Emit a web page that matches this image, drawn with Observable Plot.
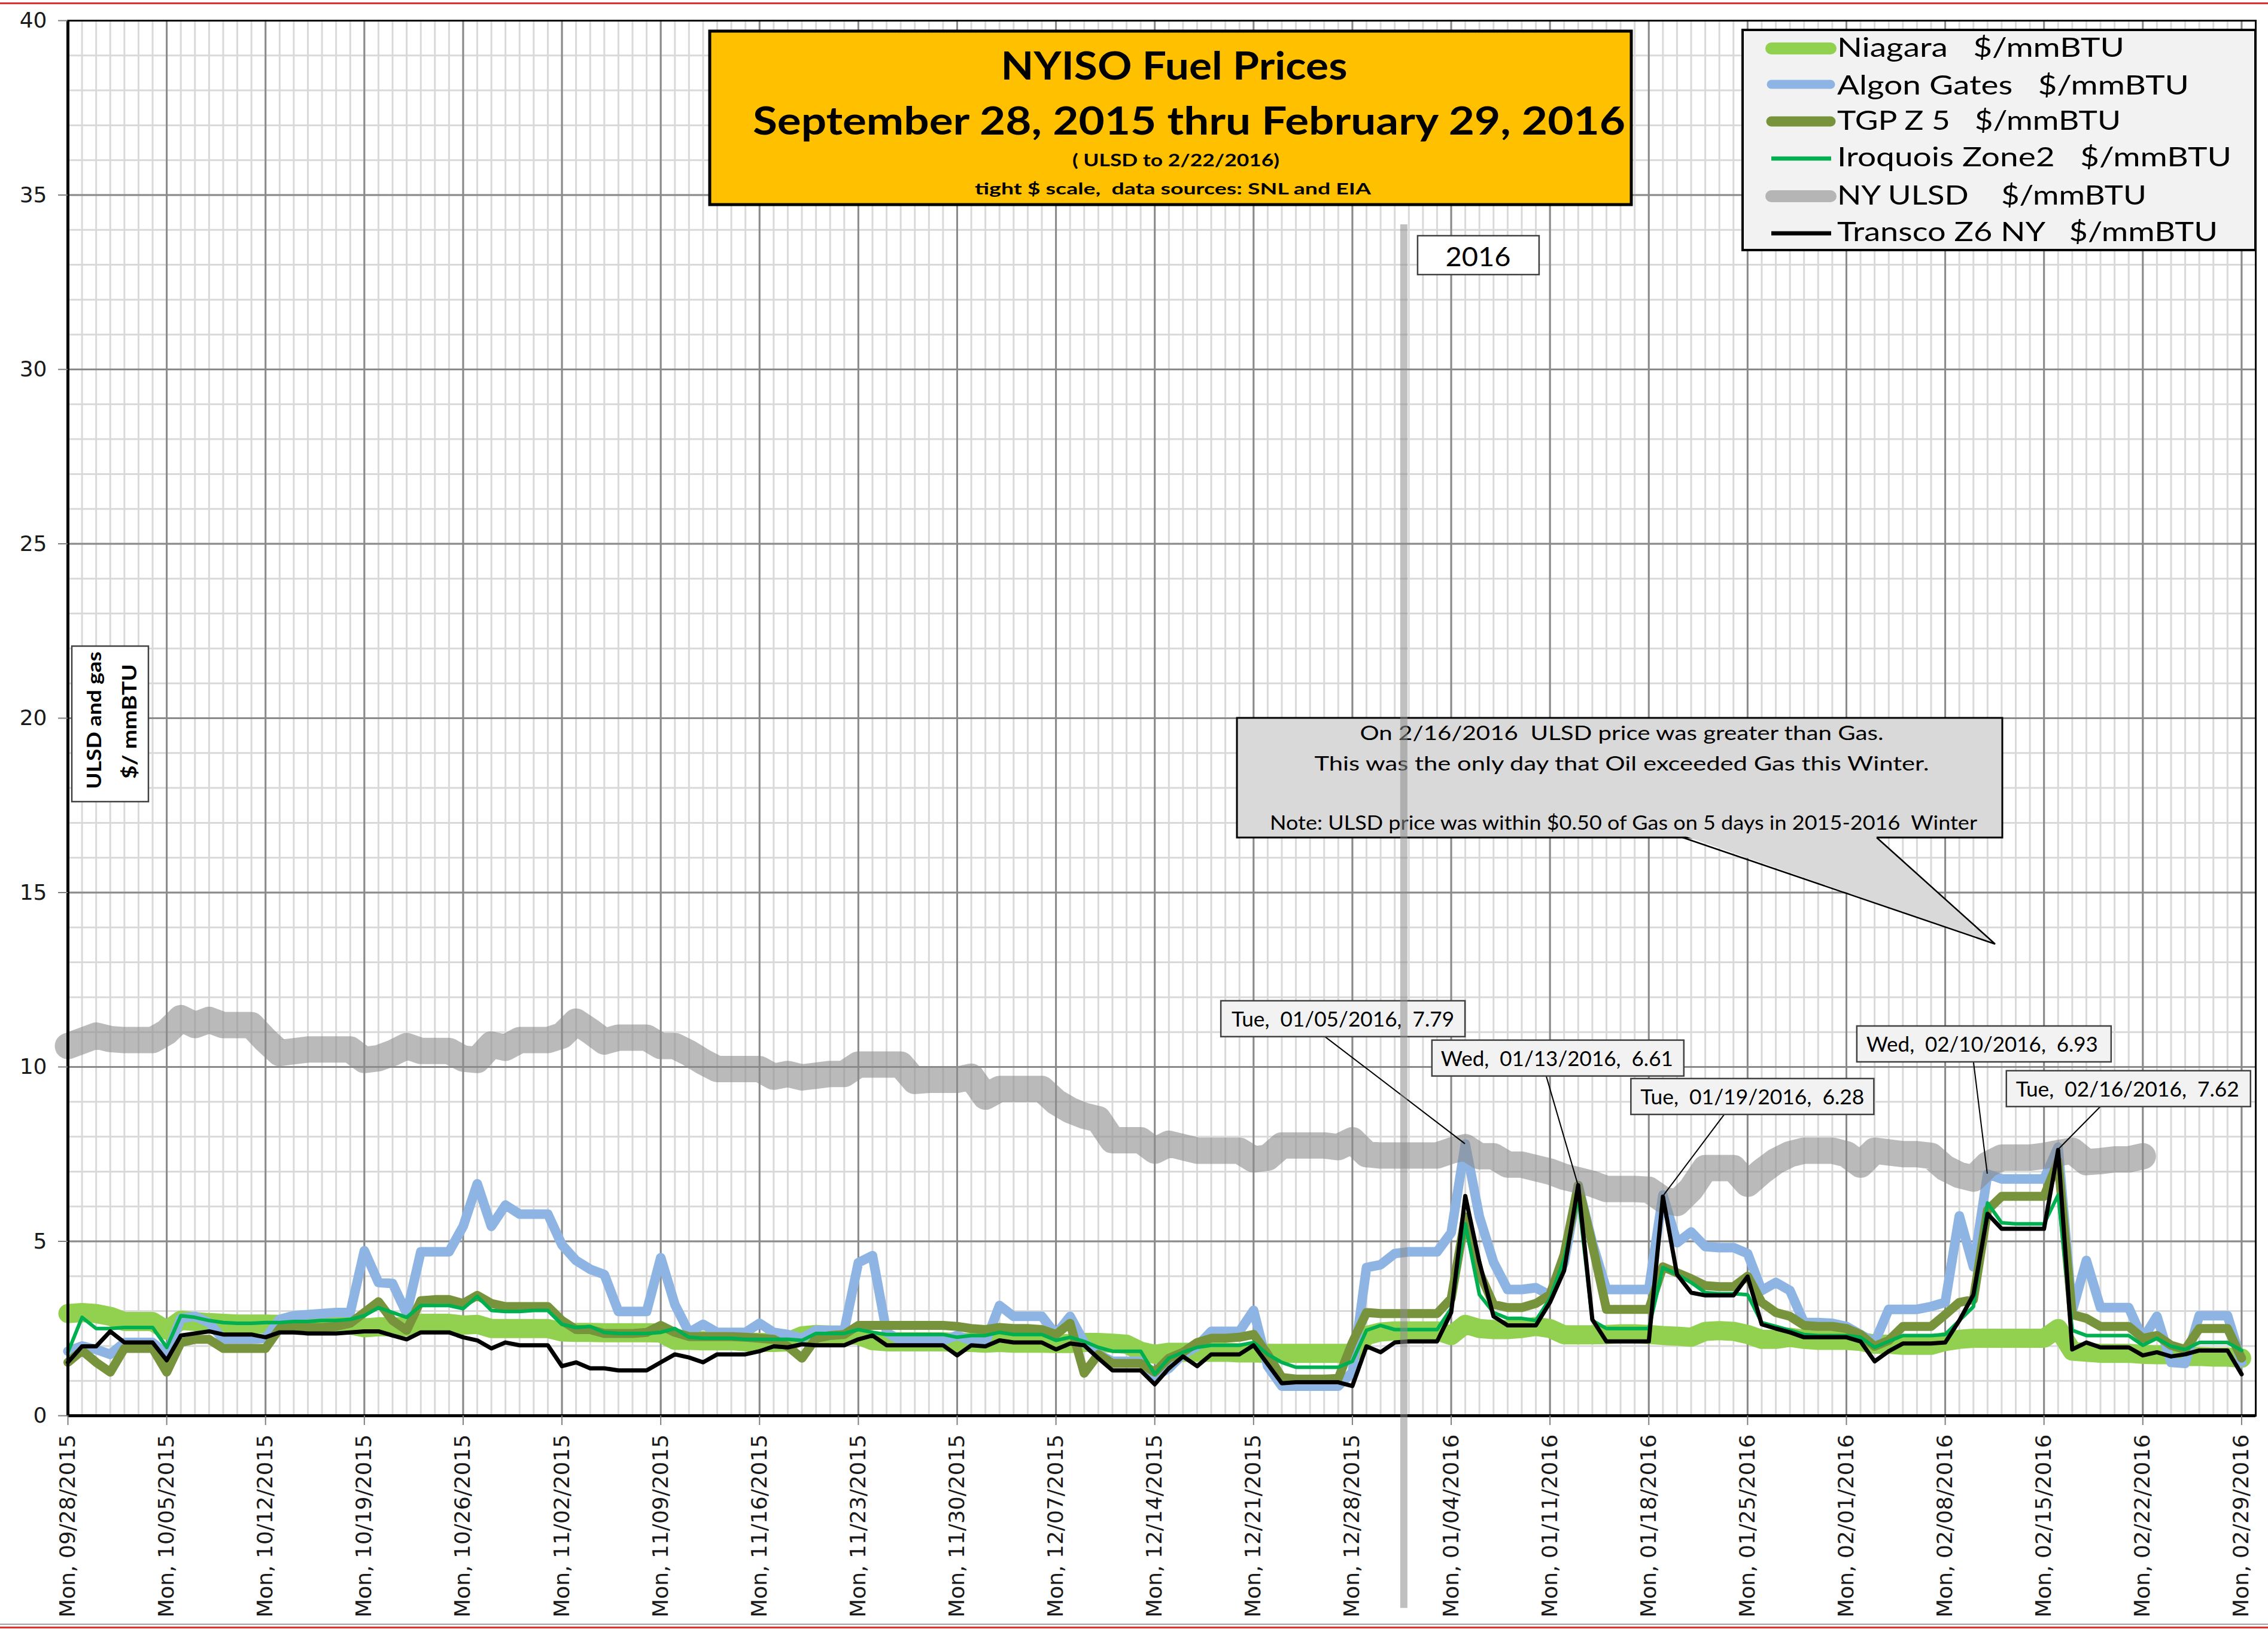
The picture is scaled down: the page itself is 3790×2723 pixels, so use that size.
<!DOCTYPE html>
<html>
<head>
<meta charset="utf-8">
<script src="https://cdn.jsdelivr.net/npm/d3@7"></script>
<script src="https://cdn.jsdelivr.net/npm/@observablehq/plot@0.6"></script>
<style>
html, body { margin: 0; padding: 0; background: #fff; }
#wrap { position: relative; width: 3790px; height: 2723px; overflow: hidden; background: #fff; }
svg text { white-space: pre; }
</style>
</head>
<body>
<div id="wrap"></div>
<script>
// ---------- DATA (daily, starting Mon 09/28/2015) ----------
const startDay = "2015-09-28";
const seriesNames = ["Niagara", "Algon Gates", "TGP Z 5", "Iroquois Zone2", "NY ULSD", "Transco Z6 NY"];
const unitLabel = "$/mmBTU";
const yTicks = [0, 5, 10, 15, 20, 25, 30, 35, 40];

const niagara = [
  2.93, 2.96, 2.93, 2.85, 2.70, 2.70, 2.70,
  2.45, 2.74, 2.70, 2.67, 2.65, 2.63, 2.63,
  2.63, 2.62, 2.62, 2.60, 2.60, 2.60, 2.60,
  2.52, 2.55, 2.55, 2.55, 2.65, 2.65, 2.65,
  2.60, 2.62, 2.50, 2.50, 2.50, 2.50, 2.50,
  2.40, 2.39, 2.39, 2.38, 2.38, 2.38, 2.38,
  2.37, 2.16, 2.16, 2.15, 2.15, 2.15, 2.12,
  2.10, 2.10, 2.12, 2.29, 2.33, 2.31, 2.31,
  2.31, 2.15, 2.12, 2.12, 2.12, 2.12, 2.12,
  2.10, 2.10, 2.08, 2.10, 2.08, 2.08, 2.08,
  2.07, 2.07, 2.10, 2.10, 2.08, 2.05, 1.85,
  1.76, 1.82, 1.82, 1.82, 1.82, 1.82, 1.80,
  1.80, 1.79, 1.79, 1.79, 1.79, 1.79, 1.79,
  1.79, 2.30, 2.40, 2.43, 2.43, 2.43, 2.43,
  2.30, 2.62, 2.50, 2.47, 2.47, 2.50, 2.56,
  2.50, 2.32, 2.32, 2.32, 2.33, 2.35, 2.35,
  2.33, 2.30, 2.28, 2.25, 2.42, 2.44, 2.42,
  2.33, 2.19, 2.19, 2.25, 2.19, 2.16, 2.16,
  2.16, 2.13, 2.05, 2.05, 2.02, 2.02, 2.02,
  2.13, 2.19, 2.22, 2.22, 2.22, 2.22, 2.22,
  2.22, 2.50, 1.85, 1.82, 1.79, 1.79, 1.79,
  1.76, 1.75, 1.75, 1.70, 1.70, 1.68, 1.68,
  1.65
];
const algon = [
  1.85, 2.00, 1.90, 1.76, 2.10, 2.10, 2.10,
  1.76, 2.79, 2.85, 2.67, 2.19, 2.19, 2.19,
  2.22, 2.76, 2.87, 2.90, 2.93, 2.96, 2.96,
  4.73, 3.82, 3.79, 2.93, 4.70, 4.70, 4.70,
  5.43, 6.65, 5.43, 6.04, 5.78, 5.78, 5.78,
  4.90, 4.45, 4.20, 4.05, 2.99, 2.99, 2.99,
  4.53, 3.19, 2.39, 2.62, 2.39, 2.39, 2.39,
  2.65, 2.39, 2.33, 2.22, 2.45, 2.45, 2.45,
  4.39, 4.59, 2.39, 2.16, 2.16, 2.16, 2.16,
  2.30, 2.16, 2.10, 3.16, 2.85, 2.85, 2.85,
  2.33, 2.85, 2.10, 1.76, 1.56, 1.56, 1.56,
  1.13, 1.36, 1.76, 1.99, 2.42, 2.42, 2.42,
  3.02, 1.42, 0.85, 0.85, 0.85, 0.85, 0.85,
  1.25, 4.25, 4.33, 4.65, 4.70, 4.70, 4.70,
  5.25, 7.79, 5.70, 4.40, 3.62, 3.62, 3.67,
  3.45, 4.39, 6.60, 4.96, 3.62, 3.62, 3.62,
  3.62, 6.33, 4.96, 5.27, 4.85, 4.82, 4.82,
  4.65, 3.59, 3.82, 3.59, 2.67, 2.67, 2.65,
  2.56, 2.33, 2.10, 3.05, 3.05, 3.05, 3.13,
  3.25, 5.73, 4.27, 6.93, 6.79, 6.79, 6.79,
  6.79, 7.70, 3.00, 4.45, 3.10, 3.10, 3.10,
  2.20, 2.85, 1.53, 1.50, 2.87, 2.87, 2.87,
  1.53
];
const tgpZ5 = [
  1.53, 1.87, 1.53, 1.25, 1.93, 1.93, 1.93,
  1.25, 2.10, 2.19, 2.19, 1.93, 1.93, 1.93,
  1.93, 2.50, 2.53, 2.53, 2.53, 2.56, 2.65,
  2.96, 3.27, 2.73, 2.45, 3.30, 3.33, 3.33,
  3.22, 3.45, 3.22, 3.13, 3.13, 3.13, 3.13,
  2.73, 2.47, 2.47, 2.36, 2.36, 2.36, 2.39,
  2.59, 2.39, 2.27, 2.27, 2.27, 2.27, 2.25,
  2.22, 2.19, 1.99, 1.65, 2.22, 2.30, 2.33,
  2.59, 2.59, 2.59, 2.59, 2.59, 2.59, 2.59,
  2.56, 2.50, 2.47, 2.53, 2.50, 2.50, 2.47,
  2.33, 2.65, 1.22, 1.76, 1.50, 1.50, 1.50,
  1.25, 1.65, 1.82, 2.10, 2.22, 2.22, 2.25,
  2.33, 1.76, 1.10, 1.05, 1.05, 1.05, 1.07,
  2.10, 2.96, 2.93, 2.93, 2.93, 2.93, 2.93,
  3.36, 5.70, 4.10, 3.19, 3.10, 3.10, 3.22,
  3.47, 4.62, 6.60, 4.90, 3.05, 3.05, 3.05,
  3.05, 4.27, 4.10, 3.93, 3.73, 3.70, 3.70,
  4.00, 3.25, 2.96, 2.85, 2.59, 2.56, 2.56,
  2.50, 2.33, 1.99, 2.16, 2.56, 2.56, 2.56,
  2.90, 3.25, 3.33, 5.90, 6.29, 6.29, 6.29,
  6.29, 7.30, 2.90, 2.79, 2.56, 2.56, 2.56,
  2.22, 2.30, 2.02, 1.90, 2.50, 2.50, 2.50,
  1.65
];
const iroquois = [
  1.82, 2.82, 2.50, 2.50, 2.53, 2.53, 2.53,
  1.96, 2.87, 2.82, 2.73, 2.67, 2.65, 2.65,
  2.67, 2.67, 2.70, 2.70, 2.73, 2.73, 2.76,
  2.87, 3.10, 2.96, 2.82, 3.16, 3.16, 3.16,
  3.07, 3.42, 3.02, 2.99, 2.99, 3.02, 3.02,
  2.62, 2.53, 2.56, 2.39, 2.36, 2.36, 2.36,
  2.39, 2.50, 2.25, 2.22, 2.22, 2.22, 2.19,
  2.19, 2.19, 2.19, 2.16, 2.36, 2.36, 2.36,
  2.47, 2.39, 2.33, 2.33, 2.33, 2.33, 2.33,
  2.25, 2.30, 2.30, 2.39, 2.33, 2.33, 2.33,
  2.16, 2.25, 2.13, 1.96, 1.85, 1.85, 1.85,
  1.19, 1.65, 1.82, 1.96, 2.02, 2.02, 2.02,
  2.10, 1.76, 1.53, 1.39, 1.39, 1.39, 1.39,
  1.56, 2.45, 2.59, 2.47, 2.47, 2.47, 2.47,
  3.07, 5.50, 3.47, 2.96, 2.79, 2.79, 2.73,
  3.36, 4.50, 6.30, 2.73, 2.50, 2.50, 2.50,
  2.50, 4.25, 4.05, 3.82, 3.53, 3.50, 3.50,
  3.47, 2.67, 2.56, 2.45, 2.33, 2.30, 2.30,
  2.30, 2.25, 1.96, 2.13, 2.30, 2.30, 2.30,
  2.33, 2.73, 3.13, 6.10, 5.53, 5.50, 5.50,
  5.50, 6.33, 2.45, 2.30, 2.30, 2.30, 2.30,
  2.02, 2.22, 1.99, 1.90, 2.10, 2.10, 2.10,
  1.87
];
const nyUlsd = [
  10.60, 10.75, 10.90, 10.80, 10.77, 10.77, 10.77,
  11.00, 11.40, 11.20, 11.35, 11.20, 11.20, 11.20,
  10.77, 10.40, 10.45, 10.50, 10.50, 10.50, 10.50,
  10.20, 10.25, 10.40, 10.60, 10.46, 10.46, 10.46,
  10.24, 10.20, 10.64, 10.55, 10.77, 10.77, 10.77,
  10.90, 11.30, 11.03, 10.73, 10.84, 10.84, 10.84,
  10.60, 10.60, 10.40, 10.15, 9.94, 9.94, 9.94,
  9.94, 9.72, 9.80, 9.70, 9.75, 9.80, 9.80,
  10.07, 10.07, 10.07, 10.07, 9.60, 9.63, 9.63,
  9.63, 9.72, 9.15, 9.37, 9.37, 9.37, 9.37,
  9.00, 8.76, 8.60, 8.50, 7.90, 7.90, 7.90,
  7.60, 7.80, 7.70, 7.60, 7.60, 7.60, 7.60,
  7.35, 7.40, 7.75, 7.75, 7.75, 7.75, 7.70,
  7.90, 7.50, 7.46, 7.46, 7.46, 7.46, 7.46,
  7.60, 7.70, 7.44, 7.44, 7.20, 7.20, 7.10,
  7.00, 6.85, 6.75, 6.65, 6.50, 6.50, 6.50,
  6.48, 6.20, 6.10, 6.50, 7.10, 7.10, 7.10,
  6.65, 7.00, 7.30, 7.50, 7.60, 7.60, 7.60,
  7.50, 7.20, 7.60, 7.55, 7.50, 7.50, 7.45,
  7.10, 6.90, 6.80, 7.20, 7.40, 7.40, 7.40,
  7.45, 7.53, 7.60, 7.27, 7.30, 7.35, 7.35,
  7.44
];
const transcoZ6 = [
  1.53, 1.99, 1.99, 2.42, 2.10, 2.10, 2.10,
  1.59, 2.30, 2.36, 2.42, 2.33, 2.33, 2.33,
  2.25, 2.39, 2.39, 2.36, 2.36, 2.36, 2.39,
  2.42, 2.42, 2.30, 2.19, 2.39, 2.39, 2.39,
  2.25, 2.16, 1.93, 2.10, 2.02, 2.02, 2.02,
  1.42, 1.53, 1.36, 1.36, 1.30, 1.30, 1.30,
  1.53, 1.76, 1.67, 1.53, 1.76, 1.76, 1.76,
  1.85, 1.99, 1.96, 2.05, 2.02, 2.02, 2.02,
  2.19, 2.30, 2.02, 2.02, 2.02, 2.02, 2.02,
  1.73, 2.02, 1.99, 2.16, 2.10, 2.10, 2.10,
  1.90, 2.07, 2.02, 1.65, 1.30, 1.30, 1.30,
  0.90, 1.36, 1.70, 1.42, 1.76, 1.76, 1.76,
  2.02, 1.48, 0.93, 0.96, 0.96, 0.96, 0.96,
  0.85, 1.99, 1.82, 2.10, 2.13, 2.13, 2.13,
  2.96, 6.30, 4.40, 2.85, 2.59, 2.59, 2.59,
  3.25, 4.16, 6.61, 2.76, 2.13, 2.13, 2.13,
  2.13, 6.28, 4.05, 3.53, 3.45, 3.45, 3.45,
  3.99, 2.62, 2.50, 2.39, 2.25, 2.25, 2.25,
  2.25, 2.13, 1.56, 1.85, 2.07, 2.07, 2.07,
  2.10, 2.73, 3.47, 5.79, 5.36, 5.36, 5.36,
  5.36, 7.62, 1.90, 2.10, 1.96, 1.96, 1.96,
  1.73, 1.82, 1.70, 1.76, 1.87, 1.87, 1.87,
  1.19
];

// ---------- build ----------
const W = 3790, H = 2723;
const start = new Date(startDay + "T00:00:00Z");
const days = d3.utcDay.range(start, d3.utcDay.offset(start, 156));   // 09/28/2015 .. 03/01/2016
const mondays = d3.utcMonday.range(start, days[155]);                 // weekly ticks
const fmtTick = d3.utcFormat("%a, %m/%d/%Y");
const yearMark = new Date(Date.UTC(2015, 11, 31, 16));

const series = [
  {name: seriesNames[0], values: niagara,   color: "#92D050", width: 32, opacity: 1,   legendW: 20},
  {name: seriesNames[1], values: algon,     color: "#8DB4E2", width: 16, opacity: 1,   legendW: 15},
  {name: seriesNames[2], values: tgpZ5,     color: "#77933C", width: 15, opacity: 1,   legendW: 17},
  {name: seriesNames[3], values: iroquois,  color: "#00B050", width: 6,  opacity: 1,   legendW: 7},
  {name: seriesNames[4], values: nyUlsd,    color: "#8C8C8C", width: 44, opacity: 0.6, legendW: 20},
  {name: seriesNames[5], values: transcoZ6, color: "#000000", width: 7,  opacity: 1,   legendW: 7}
];
const tidy = s => s.values.map((v, i) => ({date: days[i], value: v, series: s.name}));

const chart = Plot.plot({
  width: W, height: H,
  marginLeft: 113, marginRight: 21, marginTop: 34, marginBottom: 357,
  style: {background: "transparent", fontFamily: "DejaVu Sans", color: "#1a1a1a", overflow: "visible"},
  x: {type: "utc", domain: [days[0], days[155]], label: null},
  y: {domain: [0, 40], label: null},
  marks: [
    Plot.ruleX(days, {stroke: "#D9D9D9", strokeWidth: 3}),
    Plot.ruleY(d3.range(0, 41), {stroke: "#D9D9D9", strokeWidth: 3}),
    Plot.ruleX(mondays, {stroke: "#8A8A8A", strokeWidth: 3}),
    Plot.ruleY(yTicks, {stroke: "#8A8A8A", strokeWidth: 3}),
    ...series.map(s => Plot.line(tidy(s), {
      x: "date", y: "value", stroke: s.color, strokeWidth: s.width, strokeOpacity: s.opacity,
      strokeLinejoin: "round", strokeLinecap: "round"
    })),
    Plot.frame({stroke: "#000", strokeWidth: 3}),
    Plot.ruleX([days[0]], {stroke: "#000", strokeWidth: 5}),
    Plot.ruleY([0], {stroke: "#000", strokeWidth: 5}),
    Plot.axisY({ticks: yTicks, tickSize: 16, tickPadding: 19, fontSize: 36, stroke: "#7f7f7f", strokeWidth: 2, label: null}),
    Plot.axisX({ticks: mondays, tickSize: 16, tickPadding: 15, tickRotate: -90, tickFormat: fmtTick,
      fontSize: 36, textAnchor: "end", lineAnchor: "middle", stroke: "#7f7f7f", strokeWidth: 2, label: null})
  ]
});
document.getElementById("wrap").appendChild(chart);

// ---------- annotations ----------
const X = chart.scale("x"), Y = chart.scale("y");
const svg = d3.select(chart);
const g = svg.append("g").attr("class", "annotations");
const CAL = "Lato, 'Open Sans', sans-serif";

function txt(parent, s, x, y, {size, weight = "normal", anchor = "start", len = null, transform = null, fill = "#000"}) {
  const t = parent.append("text").attr("x", x).attr("y", y).text(s)
    .attr("font-family", CAL).attr("font-size", size).attr("font-weight", weight)
    .attr("text-anchor", anchor).attr("fill", fill);
  if (len) t.attr("textLength", len).attr("lengthAdjust", "spacingAndGlyphs");
  if (transform) t.attr("transform", transform);
  return t;
}

// page edge decorations (chart selection border)
g.append("rect").attr("x", 0).attr("y", 4).attr("width", W).attr("height", 3).attr("fill", "#E03030");
g.append("rect").attr("x", 0).attr("y", 2714).attr("width", W).attr("height", 2).attr("fill", "#A0A0A0");
g.append("rect").attr("x", 0).attr("y", 2719).attr("width", W).attr("height", 3).attr("fill", "#E03030");

// title box
g.append("rect").attr("x", 1186).attr("y", 52).attr("width", 1540).attr("height", 290)
  .attr("fill", "#FFC000").attr("stroke", "#000").attr("stroke-width", 5);
txt(g, "NYISO Fuel Prices", 1962, 133, {size: 65, weight: "bold", anchor: "middle", len: 579});
txt(g, "September 28, 2015 thru February 29, 2016", 1987, 225, {size: 65, weight: "bold", anchor: "middle", len: 1458});
txt(g, "( ULSD to 2/22/2016)", 1965, 278, {size: 28, weight: "bold", anchor: "middle", len: 346});
txt(g, "tight $ scale,  data sources: SNL and EIA", 1960, 325, {size: 27, weight: "bold", anchor: "middle", len: 662});

// legend box
g.append("rect").attr("x", 2912).attr("y", 50).attr("width", 857).attr("height", 368)
  .attr("fill", "#F2F2F2").attr("stroke", "#000").attr("stroke-width", 4);
const legendRows = [
  {cy: 81,  base: 95,  len: 480, sp: "   "},
  {cy: 141, base: 158, len: 588, sp: "   "},
  {cy: 203, base: 217, len: 474, sp: "   "},
  {cy: 265, base: 278, len: 659, sp: "   "},
  {cy: 328, base: 342, len: 517, sp: "    "},
  {cy: 390, base: 403, len: 636, sp: "   "}
];
series.forEach((s, i) => {
  const r = legendRows[i];
  const thin = s.legendW < 10;
  g.append("line").attr("x1", 2960).attr("x2", thin ? 3060 : 3059)
    .attr("y1", r.cy).attr("y2", r.cy).attr("stroke", s.color).attr("stroke-opacity", s.opacity)
    .attr("stroke-width", s.legendW).attr("stroke-linecap", thin ? "butt" : "round");
  txt(g, s.name + r.sp + unitLabel, 3070, r.base, {size: 44, len: r.len});
});

// y-axis title box
g.append("rect").attr("x", 120).attr("y", 1080).attr("width", 128).attr("height", 260)
  .attr("fill", "#fff").attr("stroke", "#404040").attr("stroke-width", 2.5);
txt(g, "ULSD and gas", 0, 0, {size: 32, weight: "bold", anchor: "middle", len: 230, transform: "translate(169,1204) rotate(-90)"});
txt(g, "$/ mmBTU", 0, 0, {size: 32, weight: "bold", anchor: "middle", len: 192, transform: "translate(228,1206) rotate(-90)"});

// big note callout
const nt = g.append("g");
nt.append("rect").attr("x", 2067).attr("y", 1200).attr("width", 1279).attr("height", 200)
  .attr("fill", "#D9D9D9").attr("stroke", "#000").attr("stroke-width", 3);
nt.append("polygon").attr("points", "2814,1397 3334,1578 3134,1397").attr("fill", "#D9D9D9");
nt.append("polyline").attr("points", "2812,1400 3334,1578 3136,1400").attr("fill", "none")
  .attr("stroke", "#000").attr("stroke-width", 2.5);
txt(nt, "On 2/16/2016  ULSD price was greater than Gas.", 2710, 1237, {size: 32, anchor: "middle", len: 875});
txt(nt, "This was the only day that Oil exceeded Gas this Winter.", 2710, 1288, {size: 32, anchor: "middle", len: 1027});
txt(nt, "Note: ULSD price was within $0.50 of Gas on 5 days in 2015-2016  Winter", 2713, 1387, {size: 32, anchor: "middle", len: 1182});

// data-point callouts (point taken from the data arrays via the scales)
const callouts = [
  {text: "Tue,  01/05/2016,  7.79", values: algon,     i: 99,  bx: -408, by: -239, w: 408, lx: -234, tx: 18, tl: 372},
  {text: "Wed,  01/13/2016,  6.61", values: transcoZ6, i: 107, bx: -244, by: -242, w: 421, lx: -53,  tx: 15, tl: 388},
  {text: "Tue,  01/19/2016,  6.28", values: transcoZ6, i: 113, bx: -53,  by: -197, w: 406, lx: 103,  tx: 16, tl: 374},
  {text: "Wed,  02/10/2016,  6.93", values: algon,     i: 136, bx: -218, by: -247, w: 425, lx: -23,  tx: 16, tl: 387},
  {text: "Tue,  02/16/2016,  7.62", values: transcoZ6, i: 141, bx: -86,  by: -132, w: 408, lx: 71,   tx: 16, tl: 373}
];
callouts.forEach(c => {
  const px = X.apply(days[c.i]), py = Y.apply(c.values[c.i]);
  const bx = px + c.bx, by = py + c.by, h = 60;
  g.append("line").attr("x1", px + c.lx).attr("y1", by + h).attr("x2", px).attr("y2", py)
    .attr("stroke", "#000").attr("stroke-width", 2);
  g.append("rect").attr("x", bx).attr("y", by).attr("width", c.w).attr("height", h)
    .attr("fill", "#F2F2F2").attr("stroke", "#404040").attr("stroke-width", 2.5);
  txt(g, c.text, bx + c.tx, by + 43, {size: 34, len: c.tl});
});

// 2016 divider and label
const yx = X.apply(yearMark);
g.append("line").attr("x1", yx).attr("x2", yx).attr("y1", Y.apply(34.15)).attr("y2", Y.apply(-5.52))
  .attr("stroke", "#8C8C8C").attr("stroke-opacity", 0.55).attr("stroke-width", 12);
g.append("rect").attr("x", yx + 23).attr("y", 394).attr("width", 203).attr("height", 65)
  .attr("fill", "#fff").attr("stroke", "#404040").attr("stroke-width", 2.5);
txt(g, "2016", yx + 124, 445, {size: 44, anchor: "middle", len: 109});
</script>
</body>
</html>
